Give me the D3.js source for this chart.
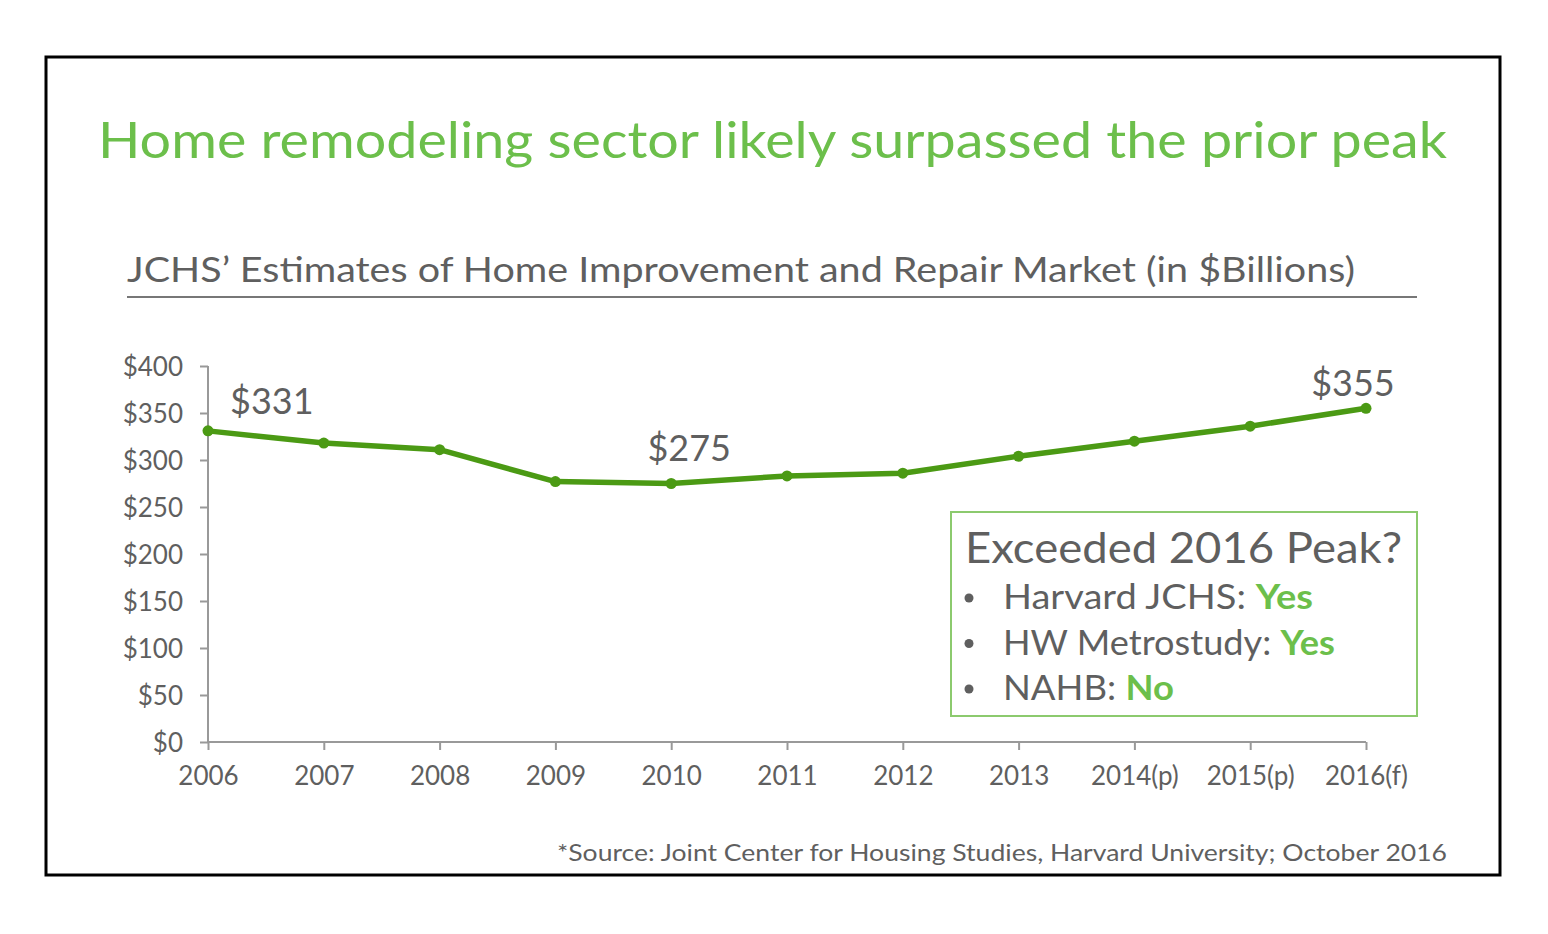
<!DOCTYPE html>
<html lang="en">
<head>
  <meta charset="UTF-8">
  <title>Home remodeling</title>
  <script src="https://d3js.org/d3.v7.min.js"></script>
  <style>
    body { margin: 0; background: #fff; }
    svg text { font-family: Lato, "Open Sans", sans-serif; }
  </style>
</head>
<body>
  <svg width="1548" height="934"></svg>
  <script>
    const years = ["2006", "2007", "2008", "2009", "2010", "2011", "2012", "2013", "2014(p)", "2015(p)", "2016(f)"];
    const market = [331, 318, 311, 277, 275, 283, 286, 304, 320, 336, 355];
    const yTicks = [0, 50, 100, 150, 200, 250, 300, 350, 400];
    const callouts = [
      { idx: 0, text: "$331", dx: 22, dy: -17, anchor: "start" },
      { idx: 4, text: "$275", dx: 18, dy: -23, anchor: "middle" },
      { idx: 10, text: "$355", dx: -13, dy: -12, anchor: "middle" }
    ];
    const boxLines = [
      { label: "Harvard JCHS: ", answer: "Yes", w: 310 },
      { label: "HW Metrostudy: ", answer: "Yes", w: 332 },
      { label: "NAHB: ", answer: "No", w: 171 }
    ];

    const green = "#6cbf4b";
    const lineGreen = "#4b9a14";
    const grey = "#5f5f5f";

    let svg = d3.select("svg");

    // frame
    svg.append("rect")
      .attr("x", 46).attr("y", 57)
      .attr("width", 1454).attr("height", 818)
      .attr("fill", "none").attr("stroke", "#000").attr("stroke-width", 3);

    svg.append("text")
      .attr("x", 98).attr("y", 158)
      .attr("font-size", 51)
      .attr("fill", green)
      .attr("textLength", 1349).attr("lengthAdjust", "spacingAndGlyphs")
      .text("Home remodeling sector likely surpassed the prior peak");

    svg.append("text")
      .attr("x", 127).attr("y", 282)
      .attr("font-size", 34)
      .attr("fill", grey)
      .attr("textLength", 1228).attr("lengthAdjust", "spacingAndGlyphs")
      .text("JCHS\u2019 Estimates of Home Improvement and Repair Market (in $Billions)");

    svg.append("line")
      .attr("x1", 127).attr("x2", 1417)
      .attr("y1", 297).attr("y2", 297)
      .attr("stroke", "#777").attr("stroke-width", 2);

    let x = d3.scalePoint().domain(years).range([208, 1366]);
    let y = d3.scaleLinear().domain([0, 400]).range([742, 366]);

    let yAxis = svg.append("g")
      .attr("transform", "translate(208,0)")
      .call(d3.axisLeft(y).tickValues(yTicks).tickSize(8).tickPadding(17).tickFormat(d => "$" + d));
    let xAxis = svg.append("g")
      .attr("transform", "translate(0,742)")
      .call(d3.axisBottom(x).tickSize(8).tickPadding(17));

    [yAxis, xAxis].forEach(g => {
      g.select(".domain").attr("stroke", "#999").attr("stroke-width", 2);
      g.selectAll(".tick line").attr("stroke", "#999").attr("stroke-width", 2);
      g.selectAll(".tick text")
        .attr("fill", grey)
        .attr("font-size", 26)
        .style("font-family", "Lato, 'Open Sans', sans-serif");
    });
    yAxis.selectAll(".tick text").attr("dy", "0.35em");
    xAxis.select(".domain").attr("d", "M208,0H1366");
    yAxis.select(".domain").attr("d", "M0,366V742");

    let line = d3.line()
      .x((d, i) => x(years[i]))
      .y(d => y(d));

    svg.append("path")
      .datum(market)
      .attr("d", line)
      .attr("fill", "none")
      .attr("stroke", lineGreen)
      .attr("stroke-width", 5.5)
      .attr("stroke-linejoin", "round");

    svg.selectAll("circle.pt")
      .data(market)
      .enter().append("circle")
      .attr("class", "pt")
      .attr("cx", (d, i) => x(years[i]))
      .attr("cy", d => y(d))
      .attr("r", 5.5)
      .attr("fill", lineGreen);

    svg.selectAll("text.callout")
      .data(callouts)
      .enter().append("text")
      .attr("class", "callout")
      .attr("x", d => x(years[d.idx]) + d.dx)
      .attr("y", d => y(market[d.idx]) + d.dy)
      .attr("text-anchor", d => d.anchor)
      .attr("font-size", 36)
      .attr("fill", grey)
      .text(d => d.text);

    // annotation box
    svg.append("rect")
      .attr("x", 951).attr("y", 512)
      .attr("width", 466).attr("height", 204)
      .attr("fill", "#fff")
      .attr("stroke", "#8cca6e").attr("stroke-width", 2);

    svg.append("text")
      .attr("x", 965).attr("y", 563)
      .attr("font-size", 42)
      .attr("fill", grey)
      .attr("textLength", 437).attr("lengthAdjust", "spacingAndGlyphs")
      .text("Exceeded 2016 Peak?");

    boxLines.forEach((d, i) => {
      let yy = 609 + i * 45.5;
      svg.append("circle")
        .attr("cx", 969).attr("cy", yy - 11)
        .attr("r", 4.5).attr("fill", grey);
      let t = svg.append("text")
        .attr("x", 1003).attr("y", yy)
        .attr("font-size", 34)
        .attr("fill", grey)
        .attr("textLength", d.w).attr("lengthAdjust", "spacingAndGlyphs");
      t.append("tspan").text(d.label);
      t.append("tspan").attr("fill", green).attr("font-weight", "bold").text(d.answer);
    });

    svg.append("text")
      .attr("x", 557).attr("y", 861)
      .attr("font-size", 24)
      .attr("fill", grey)
      .attr("textLength", 890).attr("lengthAdjust", "spacingAndGlyphs")
      .text("*Source: Joint Center for Housing Studies, Harvard University; October 2016");
  </script>
</body>
</html>
